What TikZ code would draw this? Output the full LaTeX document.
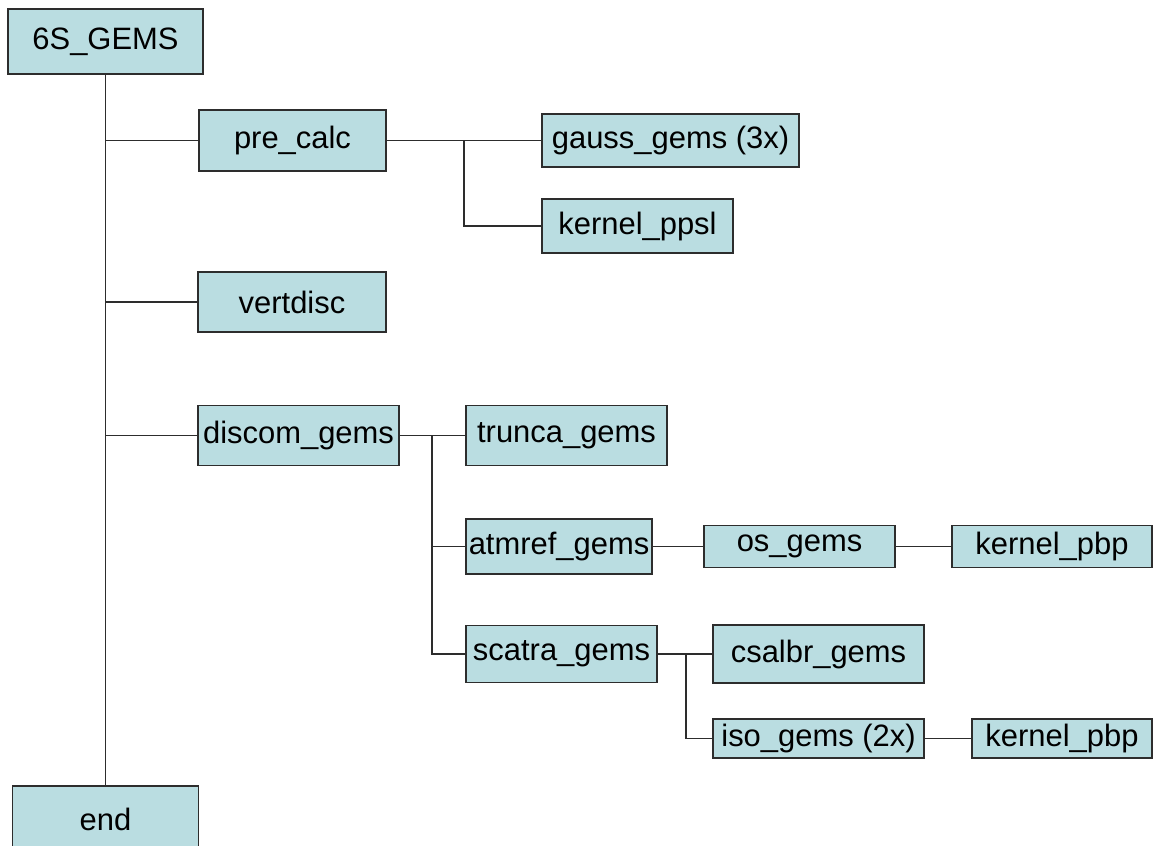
\documentclass[tikz,border=0pt]{standalone}
\usepackage{fontspec}
\setmainfont{Liberation Sans}
\definecolor{boxfill}{RGB}{186,221,225}
\definecolor{linegray}{RGB}{45,45,45}

\begin{document}
\begin{tikzpicture}[scale=0.25,
  box/.style={draw=linegray, line width=1.2pt, fill=boxfill, inner sep=0pt, font=\fontsize{22}{26}\selectfont},
  link/.style={draw=linegray, line width=1.1pt}]
                  \useasboundingbox (0,0) rectangle (115.4,-84.5);
                  % boxes
                  \node [box, minimum width=4.875cm, minimum height=1.625cm] (gems6s) at (10.55,-4.15) {6S\_GEMS};
                  \node [box, minimum width=4.675cm, minimum height=1.525cm] (precalc) at (29.25,-14.05) {pre\_calc};
                  \node [box, minimum width=6.425cm, minimum height=1.325cm] (gauss) at (67.05,-14.05) {gauss\_gems (3x)};
                  \node [box, minimum width=4.775cm, minimum height=1.35cm] (kppsl) at (63.75,-22.6) {kernel\_ppsl};
                  \node [box, minimum width=4.7cm, minimum height=1.5cm] (vertdisc) at (29.2,-30.2) {vertdisc};
                  \node [box, minimum width=5.025cm, minimum height=1.5cm] (discom) at (29.85,-43.55) {discom\_gems};
                  \node [box, minimum width=5.025cm, minimum height=1.5cm] (trunca) at (56.65,-43.55) {trunca\_gems};
                  \node [box, minimum width=4.65cm, minimum height=1.375cm] (atmref) at (55.9,-54.65) {atmref\_gems};
                  \node [box, minimum width=4.775cm, minimum height=1.05cm] (osgems) at (79.95,-54.65) {os\_gems};
                  \node [box, minimum width=5.0cm, minimum height=1.05cm] (kpbpa) at (105.2,-54.65) {kernel\_pbp};
                  \node [box, minimum width=4.775cm, minimum height=1.425cm] (scatra) at (56.15,-65.4) {scatra\_gems};
                  \node [box, minimum width=5.275cm, minimum height=1.45cm] (csalbr) at (81.85,-65.4) {csalbr\_gems};
                  \node [box, minimum width=5.275cm, minimum height=0.975cm] (iso) at (81.85,-73.85) {iso\_gems (2x)};
                  \node [box, minimum width=4.5cm, minimum height=0.975cm] (kpbpb) at (106.2,-73.85) {kernel\_pbp};
                  \node [box, minimum width=4.65cm, minimum height=1.65cm] (end) at (10.55,-81.9) {end};
                  % junctions
                  \coordinate (jpre) at (46.4,-14.05);
                  \coordinate (jdis) at (43.2,-43.55);
                  \coordinate (jsca) at (68.6,-65.4);
                  % main line
                  \draw [link] (gems6s.south) -- (end.north);
                  \draw [link] (gems6s.south |- precalc.west) -- (precalc.west);
                  \draw [link] (gems6s.south |- vertdisc.west) -- (vertdisc.west);
                  \draw [link] (gems6s.south |- discom.west) -- (discom.west);
                  % pre_calc
                  \draw [link] (precalc.east) -- (gauss.west);
                  \draw [link] (jpre) |- (kppsl.west);
                  % discom_gems
                  \draw [link] (discom.east) -- (trunca.west);
                  \draw [link] (jdis) |- (atmref.west);
                  \draw [link] (jdis) |- (scatra.west);
                  \draw [link] (atmref.east) -- (osgems.west);
                  \draw [link] (osgems.east) -- (kpbpa.west);
                  % scatra_gems
                  \draw [link] (scatra.east) -- (csalbr.west);
                  \draw [link] (jsca) |- (iso.west);
                  \draw [link] (iso.east) -- (kpbpb.west);
              \end{tikzpicture}
\end{document}
